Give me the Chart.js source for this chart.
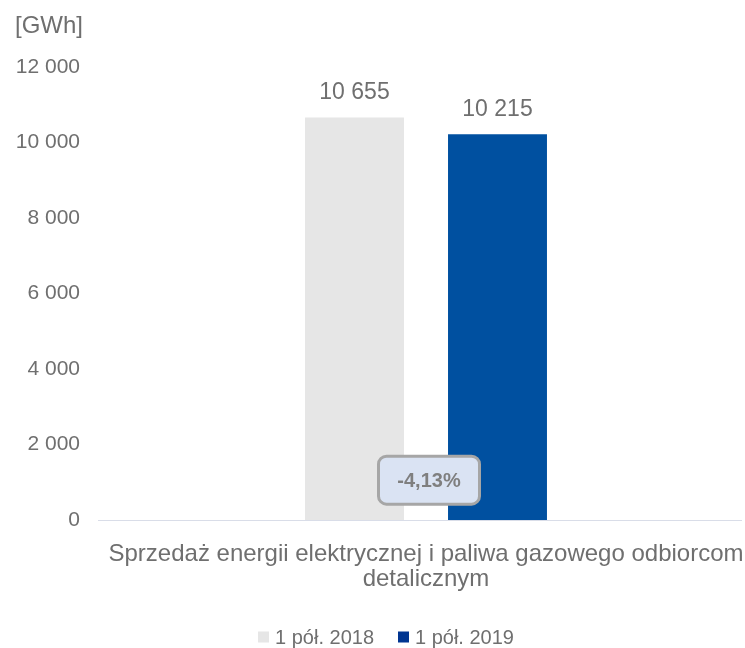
<!DOCTYPE html>
<html>
<head>
<meta charset="utf-8">
<script src="https://cdn.jsdelivr.net/npm/chart.js@4.4.1/dist/chart.umd.min.js"></script>
<style>
  html, body { margin: 0; padding: 0; background: #fff; }
  #wrap { width: 745px; height: 648px; }
</style>
</head>
<body>
<div id="wrap"><canvas id="chart" width="745" height="648"></canvas></div>
<script>
// data
const categories = [["Sprzedaż energii elektrycznej i paliwa gazowego odbiorcom", "detalicznym"]];
const seriesNames = ["1 pół. 2018", "1 pół. 2019"];
const values2018 = [10655];
const values2019 = [10215];
const yTicks = [0, 2000, 4000, 6000, 8000, 10000, 12000];
const changeLabel = "-4,13%";

const textColor = "#6f6f6f";
const family = "Arial, 'Liberation Sans', sans-serif";
const barColors = ["#e6e6e6", "#0050a0"];
const legendColors = ["#e6e6e6", "#003591"];
const fmt = v => String(v).replace(/\B(?=(\d{3})+(?!\d))/g, " ");

// axis line, value labels, change callout and legend
const extras = {
  id: "extras",
  afterDatasetsDraw(chart) {
    const ctx = chart.ctx;
    const area = chart.chartArea;
    const y = chart.scales.y;
    const x = chart.scales.x;

    ctx.save();
    ctx.strokeStyle = "#d9dde8";
    ctx.lineWidth = 1;
    ctx.beginPath();
    ctx.moveTo(98, Math.round(area.bottom) + 0.5);
    ctx.lineTo(742, Math.round(area.bottom) + 0.5);
    ctx.stroke();

    ctx.font = "23px " + family;
    ctx.fillStyle = textColor;
    ctx.textAlign = "center";
    ctx.textBaseline = "bottom";
    chart.data.datasets.forEach((ds, i) => {
      chart.getDatasetMeta(i).data.forEach((bar, j) => {
        ctx.fillText(fmt(ds.data[j]), bar.x, bar.y - 13);
      });
    });

    // callout
    const cx = x.getPixelForValue(0) + 3;
    const cy = y.getPixelForValue(1055);
    const w = 101, h = 48, r = 8;
    ctx.beginPath();
    ctx.roundRect(cx - w / 2, cy - h / 2, w, h, r);
    ctx.fillStyle = "#dae3f3";
    ctx.fill();
    ctx.lineWidth = 3;
    ctx.strokeStyle = "#a6a6a6";
    ctx.stroke();
    ctx.font = "bold 20px " + family;
    ctx.fillStyle = "#7f7f7f";
    ctx.textBaseline = "middle";
    ctx.fillText(changeLabel, cx, cy + 1);

    // legend
    ctx.font = "20px " + family;
    ctx.textAlign = "left";
    const box = 11, gap = 6, itemGap = 24;
    const widths = seriesNames.map(s => box + gap + ctx.measureText(s).width);
    const total = widths.reduce((a, b) => a + b, 0) + itemGap * (widths.length - 1);
    let lx = 386 - total / 2;
    const ly = 637;
    seriesNames.forEach((s, i) => {
      ctx.fillStyle = legendColors[i];
      ctx.fillRect(lx, ly - box / 2, box, box);
      ctx.fillStyle = textColor;
      ctx.fillText(s, lx + box + gap, ly + 1);
      lx += widths[i] + itemGap;
    });
    ctx.restore();
  }
};

new Chart(document.getElementById("chart"), {
  type: "bar",
  data: {
    labels: categories,
    datasets: [
      { label: seriesNames[0], data: values2018, backgroundColor: barColors[0] },
      { label: seriesNames[1], data: values2019, backgroundColor: barColors[1] }
    ]
  },
  options: {
    responsive: false,
    animation: false,
    devicePixelRatio: 1,
    layout: { padding: { left: 15, right: 3, top: 0, bottom: 28 } },
    datasets: { bar: { categoryPercentage: 0.4525, barPercentage: 0.692 } },
    plugins: {
      title: {
        display: true,
        text: "[GWh]",
        align: "start",
        color: textColor,
        font: { family, size: 24, weight: "normal" },
        padding: { top: 12, bottom: 26 }
      },
      legend: { display: false },
      tooltip: { enabled: false }
    },
    scales: {
      x: {
        grid: { display: false },
        border: { display: false },
        afterFit(scale) {
          scale.height = 100;
          scale.paddingLeft = 0;
          scale.paddingRight = 0;
        },
        ticks: {
          color: textColor,
          font: { family, size: 24, lineHeight: 1.05 },
          padding: 14,
          maxRotation: 0
        }
      },
      y: {
        min: 0,
        max: 12000,
        grid: { display: false },
        border: { display: false },
        afterBuildTicks(scale) { scale.ticks = yTicks.map(v => ({ value: v })); },
        afterFit(scale) { scale.width = 95; },
        ticks: {
          color: textColor,
          font: { family, size: 21 },
          padding: 22,
          callback: v => fmt(v)
        }
      }
    }
  },
  plugins: [extras]
});
</script>
</body>
</html>
